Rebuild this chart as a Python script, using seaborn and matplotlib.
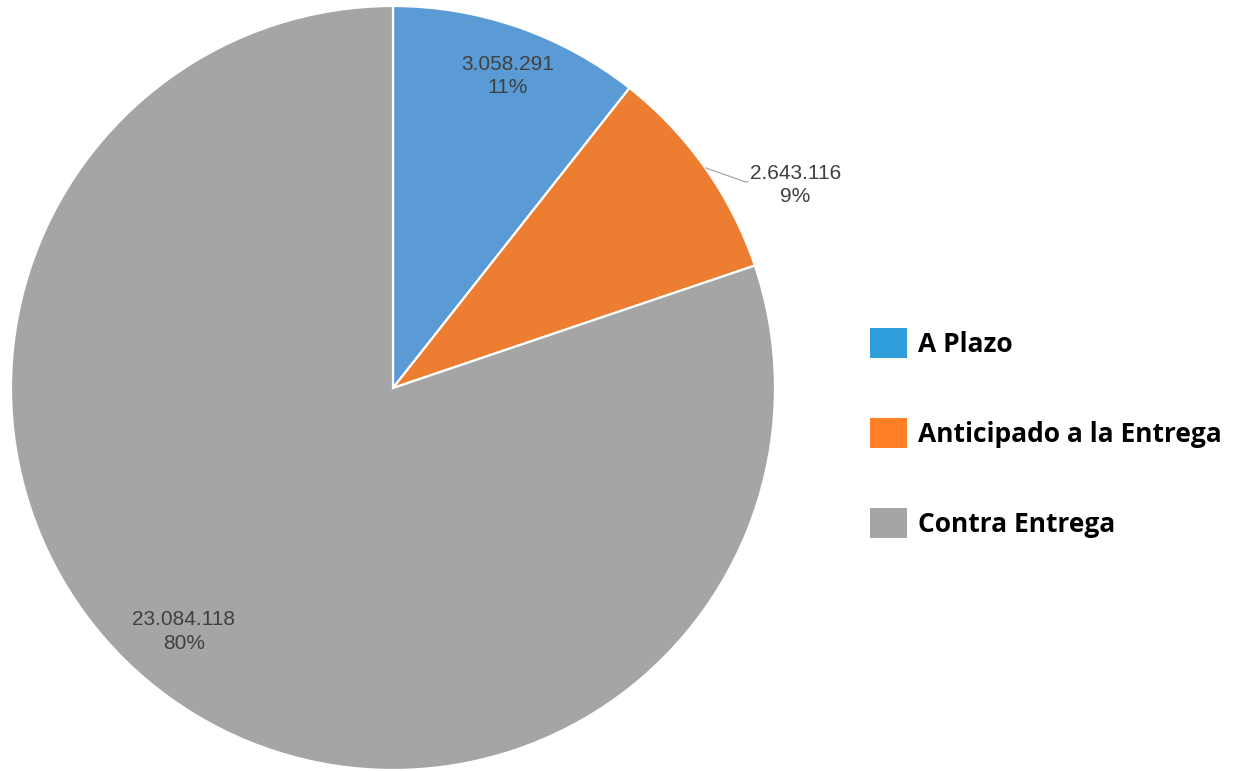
import numpy as np
import matplotlib
matplotlib.use("Agg")
import matplotlib.pyplot as plt
import matplotlib.patches as mpatches
import seaborn as sns

# datos
categorias = ["A Plazo", "Anticipado a la Entrega", "Contra Entrega"]
valores = [3058291, 2643116, 23084118]
colores_pie = ["#5B9BD5", "#ED7D31", "#A5A5A5"]
colores_leyenda = ["#2E9FDA", "#FF7F27", "#A5A5A5"]

sns.set_theme(style="white")
plt.rcParams["font.family"] = ["Liberation Sans", "DejaVu Sans"]

W, H = 1244, 771
fig = plt.figure(figsize=(W / 100, H / 100), dpi=100)
cx, cy, r = 393, 388, 382
ax = fig.add_axes([(cx - r) / W, (H - cy - r) / H, 2 * r / W, 2 * r / H])

def fmt(v):
    return f"{v:,}".replace(",", ".")

total = sum(valores)
wedges, _ = ax.pie(valores, colors=colores_pie, startangle=90, counterclock=False,
                   radius=1.0, wedgeprops=dict(edgecolor="white", linewidth=1.6))
ax.set_xlim(-1, 1)
ax.set_ylim(-1, 1)
ax.set_aspect("equal")
ax.axis("off")

txt = dict(color="#404040", fontsize=15, ha="center", va="center", linespacing=1.3)
for i, (w, v) in enumerate(zip(wedges, valores)):
    mid = (w.theta1 + w.theta2) / 2
    pct = f"{round(100 * v / total)}%"
    label = f"{fmt(v)}\n{pct}"
    if v / total < 0.1:
        # etiqueta fuera con línea guía
        ang = np.deg2rad(mid)
        x0, y0 = np.cos(ang), np.sin(ang)
        ax.plot([x0, x0 + 0.105, x0 + 0.113], [y0, y0 - 0.037, y0 - 0.037],
                color="#A6A6A6", lw=0.9, solid_capstyle="butt")
        ax.text(x0 + 0.236, y0 - 0.045, label, **txt)
    else:
        d = 0.87 if i == 0 else 0.84
        ang = np.deg2rad(mid - 1 if i == 0 else mid - 5)
        ax.text(d * np.cos(ang), d * np.sin(ang), label, **txt)

handles = [mpatches.Patch(facecolor=c, edgecolor="none") for c in colores_leyenda]
leg = fig.legend(handles, categorias, loc="upper left", bbox_to_anchor=(862 / W, 1 - 320 / H),
                 frameon=False, prop=dict(family=["Open Sans", "DejaVu Sans"], weight="bold", size=19),
                 handlelength=1.4, handleheight=1.4, handletextpad=0.42, labelspacing=2.25,
                 borderaxespad=0, borderpad=0.3, labelcolor="black")

fig.savefig("out.png", dpi=100, facecolor="white")
